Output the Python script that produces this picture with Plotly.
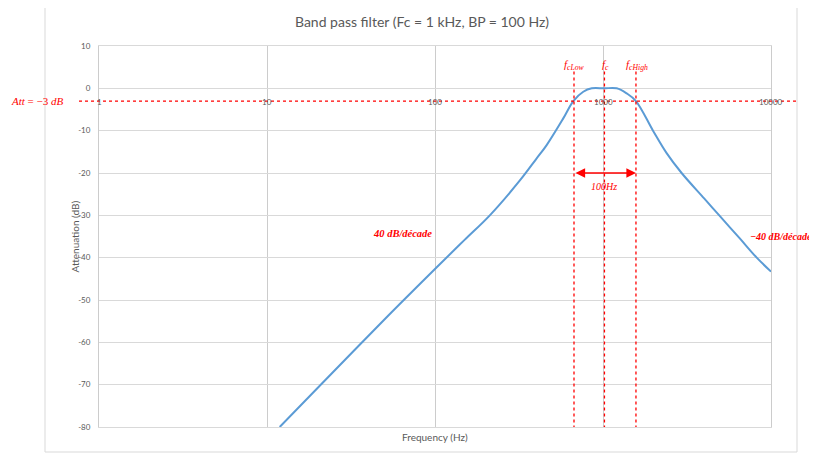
import numpy as np
import plotly.graph_objects as go

# ---- data ----
freq_hz = [11.9, 20, 50, 101, 150, 212, 321, 400, 462, 580, 666, 763, 857, 1014,
           1207, 1385, 1571, 1985, 2392, 2937, 4000, 4966, 6500, 8222, 10000]
atten_db = [-80, -70.8, -54.6, -42.5, -35.8, -30, -21.7, -16.7, -13.4, -7.1, -3, -0.8, 0, 0,
            0, -1.2, -3, -10, -15.3, -20, -26.0, -30.2, -35.4, -40, -43.3]

x_ticks = [1, 10, 100, 1000, 10000]
x_tick_labels = ["1", "10", "100", "1000", "10000"]
y_ticks = [10, 0, -10, -20, -30, -40, -50, -60, -70, -80]
y_tick_labels = ["10", "0", "-10", "-20", "-30", "-40", "-50", "-60", "-70", "-80"]

att_level = -3
f_low, f_c, f_high = 672, 1020, 1571
bw_level = -20

TITLE = "Band pass filter (Fc = 1 kHz, BP = 100 Hz)"
GRAY = "#595959"
RED = "#ff0000"
FONT = "Lato, Open Sans, sans-serif"
SERIF = "Liberation Serif, DejaVu Serif, serif"

# page offset of 8px (body margin) -> figure is drawn at (8, 8)
OFF = 8
W, H = 817 - OFF, 455 - OFF
PL, PT, PW, PH = 99 - OFF, 46 - OFF, 672, 381

fig = go.Figure()

fig.add_trace(go.Scatter(x=freq_hz, y=atten_db, mode="lines", line_shape="spline",
                         line=dict(color="#5b9bd5", width=2), hoverinfo="skip"))

# vertical red dashed marker lines
for fv in (f_low, f_c, f_high):
    fig.add_trace(go.Scatter(x=[fv, fv], y=[4, -80], mode="lines",
                             line=dict(color=RED, width=1.3, dash="dot"), hoverinfo="skip"))

# horizontal -3 dB line (extends beyond plot area)
fig.add_shape(type="line", xref="paper", yref="y", x0=(79 - 99) / PW, x1=(796 - 99) / PW,
              y0=att_level, y1=att_level, line=dict(color=RED, width=1.3, dash="dot"))

# chart area border
fig.add_shape(type="rect", xref="paper", yref="paper",
              x0=(45 - 99) / PW, x1=(797 - 99) / PW, y0=(427 - 452) / PH, y1=(427 - 5) / PH,
              line=dict(color="#d9d9d9", width=1))

ann = []
# x tick labels along y = 0
for v, t in zip(x_ticks, x_tick_labels):
    ann.append(dict(x=np.log10(v), y=0, xref="x", yref="y", text=t, showarrow=False,
                    yanchor="top", yshift=-7, font=dict(family=FONT, size=8, color=GRAY)))

# axis titles
ann.append(dict(x=0.5, y=(427 - 437) / PH, xref="paper", yref="paper", text="Frequency (Hz)",
                showarrow=False, yanchor="middle", font=dict(family=FONT, size=10, color=GRAY)))
ann.append(dict(x=(66 - 99) / PW, y=0.5, xref="paper", yref="paper", text="Attenuation (dB)",
                textangle=-90, showarrow=False, font=dict(family=FONT, size=10, color=GRAY)))

# red labels
ann.append(dict(x=(9 - 99) / PW, y=att_level, xref="paper", yref="y", xanchor="left",
                text="<i>Att</i> = −3 <i>dB</i>", showarrow=False,
                font=dict(family=SERIF, size=11, color=RED)))
for fv, lab in ((f_low, "<i>f</i><sub><i>cLow</i></sub>"), (f_c, "<i>f</i><sub><i>c</i></sub>"),
                (f_high, "<i>f</i><sub><i>cHigh</i></sub>")):
    ann.append(dict(x=np.log10(fv) + 0.005, y=5.6, xref="x", yref="y", text=lab, showarrow=False,
                    font=dict(family=SERIF, size=11, color=RED)))

# bandwidth double arrow
ann.append(dict(x=np.log10(f_high), y=bw_level, ax=np.log10(f_low), ay=bw_level,
                xref="x", yref="y", axref="x", ayref="y", text="", showarrow=True,
                arrowside="end+start", arrowhead=2, arrowsize=1.2, arrowwidth=1.6, arrowcolor=RED))
ann.append(dict(x=np.log10(f_c), y=-23.1, xref="x", yref="y", text="<i>100Hz</i>", showarrow=False,
                font=dict(family=SERIF, size=10, color=RED)))

ann.append(dict(x=(402 - 99) / 168, y=-34.4, xref="x", yref="y",
                text="<i><b>40 dB/décade</b></i>", showarrow=False,
                font=dict(family=SERIF, size=10.5, color=RED)))
ann.append(dict(x=(814 - 99) / PW, y=-35.1, xref="paper", yref="y", xanchor="right",
                text="<i><b>−40 dB/décade</b></i>", showarrow=False,
                font=dict(family=SERIF, size=10, color=RED)))

fig.update_layout(
    width=W, height=H,
    margin=dict(l=PL, r=W - PL - PW, t=PT, b=H - PT - PH, autoexpand=False),
    paper_bgcolor="white", plot_bgcolor="white",
    showlegend=False,
    title=dict(text=TITLE, x=(422 - OFF) / W, xanchor="center", y=1 - (22 - OFF) / H,
               yanchor="middle", font=dict(family=FONT, size=14, color=GRAY)),
    annotations=ann,
)
fig.update_xaxes(type="log", range=[0, 4], tickvals=x_ticks, showticklabels=False,
                 showgrid=True, gridcolor="#cccccc", gridwidth=1, zeroline=False,
                 showline=True, mirror=True, linecolor="#d9d9d9", linewidth=1, ticks="")
fig.update_yaxes(range=[-80, 10], tickvals=y_ticks, ticktext=y_tick_labels,
                 showgrid=True, gridcolor="#d9d9d9", gridwidth=1, zeroline=False,
                 showline=True, mirror=True, linecolor="#cccccc", linewidth=1, ticks="",
                 ticklabelstandoff=6, tickfont=dict(family=FONT, size=8, color=GRAY))

fig.write_html("out.html")
